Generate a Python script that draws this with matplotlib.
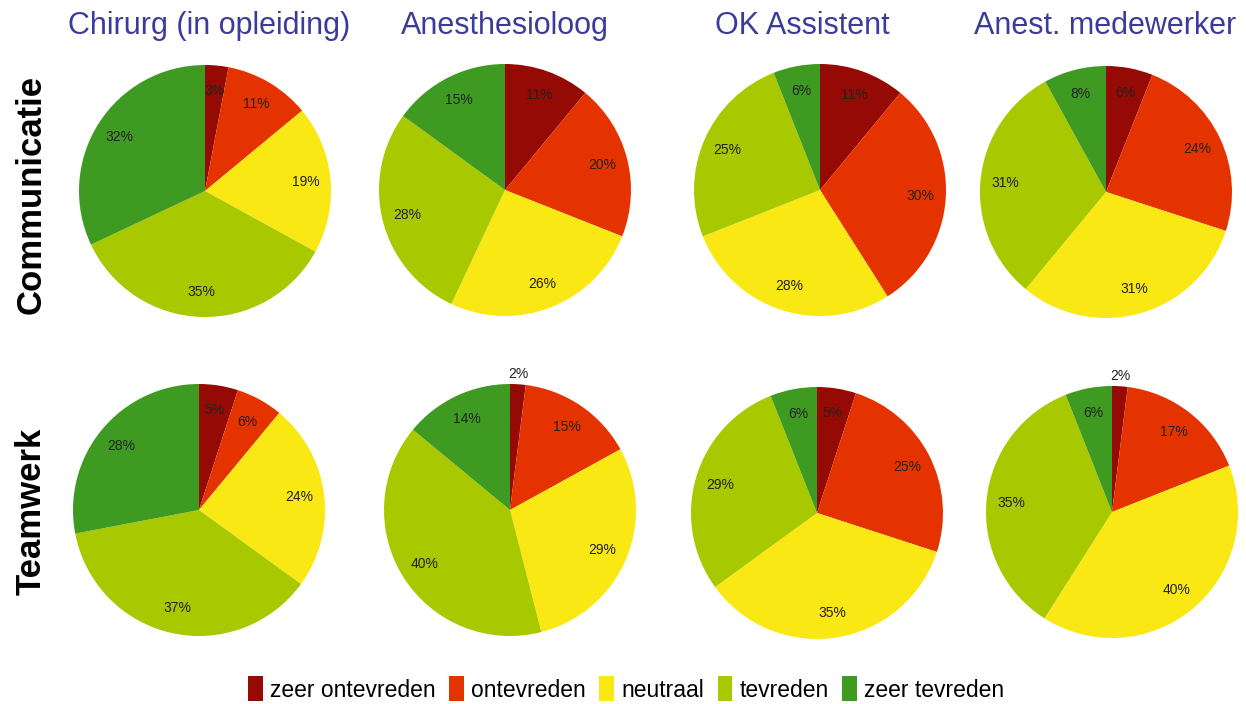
import matplotlib

matplotlib.use("Agg")
import matplotlib.pyplot as plt
import numpy as np
from matplotlib.patches import Patch

plt.rcParams["font.family"] = ["Liberation Sans", "DejaVu Sans"]

CATEGORIES = ["zeer ontevreden", "ontevreden", "neutraal", "tevreden", "zeer tevreden"]
COLORS = ["#960a05", "#e53300", "#f9e814", "#a8c800", "#3f9a22"]

GROUPS = ["Chirurg (in opleiding)", "Anesthesioloog", "OK Assistent", "Anest. medewerker"]
TOPICS = ["Communicatie", "Teamwerk"]

# percentages per group, in category order
communicatie = [
    [3, 11, 19, 35, 32],
    [11, 20, 26, 28, 15],
    [11, 30, 28, 25, 6],
    [6, 24, 31, 31, 8],
]
teamwerk = [
    [5, 6, 24, 37, 28],
    [2, 15, 29, 40, 14],
    [5, 25, 35, 29, 6],
    [2, 17, 40, 35, 6],
]

# layout (pixels, from top-left of the 1246x704 canvas)
W, H = 1246, 704
PIE_CENTERS = [
    [(205, 191), (505, 190), (820, 190), (1106, 192)],
    [(199, 510), (510, 510), (817, 513), (1112, 512)],
]
PIE_R = 126
TITLE_X = [209, 505, 802, 1105]

fig = plt.figure(figsize=(W / 100, H / 100), dpi=100)

for row, data in enumerate([communicatie, teamwerk]):
    for col, values in enumerate(data):
        cx, cy = PIE_CENTERS[row][col]
        ax = fig.add_axes([(cx - PIE_R) / W, 1 - (cy + PIE_R) / H, 2 * PIE_R / W, 2 * PIE_R / H])
        wedges, _ = ax.pie(values, colors=COLORS, startangle=90, counterclock=False,
                           wedgeprops=dict(linewidth=0))
        ax.set_xlim(-1, 1)
        ax.set_ylim(-1, 1)
        for w, v in zip(wedges, values):
            mid = np.deg2rad((w.theta1 + w.theta2) / 2)
            dist = 1.08 if v <= 2 else 0.8
            ax.text(dist * np.cos(mid), dist * np.sin(mid), f"{v}%", ha="center", va="center",
                    fontsize=10, color="#222222", clip_on=False)

for col, name in enumerate(GROUPS):
    fig.text(TITLE_X[col] / W, 1 - 26 / H, name, ha="center", va="center",
             fontsize=22, color="#3b3b9c")

fig.text(31 / W, 1 - 194 / H, TOPICS[0], rotation=90, ha="center", va="center",
         fontsize=25, fontweight="bold")
fig.text(31 / W, 1 - 511 / H, TOPICS[1], rotation=90, ha="center", va="center",
         fontsize=25, fontweight="bold")

handles = [Patch(facecolor=c, edgecolor="none") for c in COLORS]
fig.legend(handles, CATEGORIES, loc="center", bbox_to_anchor=(626 / W, 1 - 689 / H),
           ncol=5, frameon=False, fontsize=16.5, handlelength=0.65, handleheight=1.3,
           handletextpad=0.3, columnspacing=0.6)

fig.savefig("out.png", dpi=100, facecolor="white")
